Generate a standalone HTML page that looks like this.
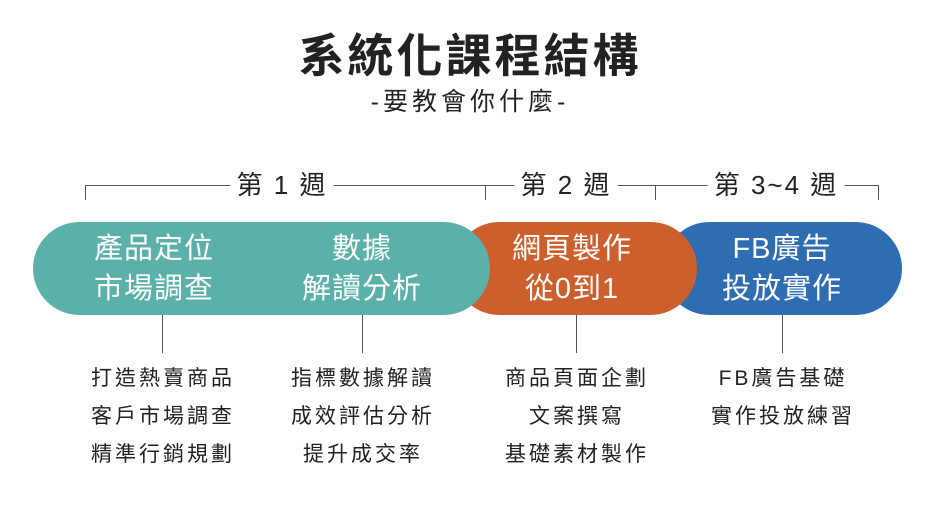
<!DOCTYPE html>
<html><head><meta charset="utf-8"><style>
body{margin:0;width:942px;height:508px;background:#fff;position:relative;overflow:hidden;font-family:"Liberation Sans","Noto Sans CJK TC",sans-serif;color:#222}
.a{position:absolute;white-space:nowrap}
.c{transform:translateX(-50%);text-align:center}
.pill{position:absolute;top:222px;height:93px;border-radius:47px}
.bt{color:#fff;font-size:29px;line-height:40px;top:229px;letter-spacing:1px}
.ls{font-size:21px;line-height:38px;top:360px;color:#222;letter-spacing:3px}
.ln{position:absolute;background:#555}
.wk{font-size:26px;top:165px;background:#fff;padding:0 6px;letter-spacing:2px}
</style></head><body>
<div class="a c" style="left:470px;top:20px;font-size:46px;font-weight:bold;letter-spacing:3px">系統化課程結構</div>
<div class="a c" style="left:470px;top:82px;font-size:25px;letter-spacing:4px">-要教會你什麼-</div>

<div class="ln" style="left:85px;top:185px;width:793px;height:1px"></div>
<div class="ln" style="left:85px;top:185px;width:1px;height:15px"></div>
<div class="ln" style="left:485px;top:185px;width:1px;height:15px"></div>
<div class="ln" style="left:655px;top:185px;width:1px;height:15px"></div>
<div class="ln" style="left:878px;top:185px;width:1px;height:15px"></div>
<div class="a c wk" style="left:282px">第 1 週</div>
<div class="a c wk" style="left:566px">第 2 週</div>
<div class="a c wk" style="left:776px">第 3~4 週</div>

<div class="pill" style="left:663px;width:239px;background:#2f6db3"></div>
<div class="pill" style="left:453px;width:244px;background:#cd5f2c"></div>
<div class="pill" style="left:33px;width:457px;background:#5bb0a9"></div>

<div class="a c bt" style="left:154px">產品定位<br>市場調查</div>
<div class="a c bt" style="left:362px">數據<br>解讀分析</div>
<div class="a c bt" style="left:572px">網頁製作<br>從0到1</div>
<div class="a c bt" style="left:782px">FB廣告<br>投放實作</div>

<div class="ln" style="left:162px;top:315px;width:1px;height:38px"></div>
<div class="ln" style="left:362px;top:315px;width:1px;height:38px"></div>
<div class="ln" style="left:576px;top:315px;width:1px;height:38px"></div>
<div class="ln" style="left:782px;top:315px;width:1px;height:38px"></div>

<div class="a c ls" style="left:163px">打造熱賣商品<br>客戶市場調查<br>精準行銷規劃</div>
<div class="a c ls" style="left:363px">指標數據解讀<br>成效評估分析<br>提升成交率</div>
<div class="a c ls" style="left:577px">商品頁面企劃<br>文案撰寫<br>基礎素材製作</div>
<div class="a c ls" style="left:783px">FB廣告基礎<br>實作投放練習</div>
</body></html>
